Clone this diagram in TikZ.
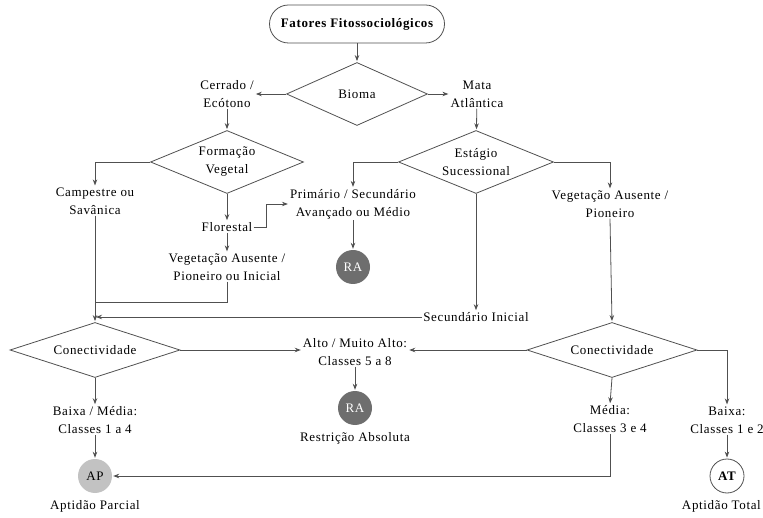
\documentclass[tikz,border=0pt]{standalone}
\usepackage{fontspec}
\setmainfont{Liberation Serif}[LetterSpace=5]
\usetikzlibrary{shapes.geometric,arrows.meta}

\definecolor{lineGray}{HTML}{505050}
\definecolor{raGray}{HTML}{6E6E6E}
\definecolor{apGray}{HTML}{C2C2C2}

\begin{document}
\begin{tikzpicture}[x=1pt,y=-1pt]

    \tikzset{
      txt/.style={
        align=center,
        inner sep=1pt,
        font=\fontsize{13}{18}\selectfont,
      },
      decision/.style={
        txt,
        draw=lineGray,
        line width=0.8pt,
        diamond,
        shape aspect=2.5,
        inner sep=0pt,
      },
      endpoint/.style={
        circle,
        inner sep=0pt,
        minimum size=34pt,
        font=\fontsize{13}{18}\selectfont,
      },
      arr/.style={
        draw=lineGray,
        line width=0.8pt,
        -{Stealth[length=6pt,width=4.5pt]},
        shorten >=1pt,
      },
      link/.style={
        draw=lineGray,
        line width=0.8pt,
      },
    }
    \useasboundingbox (0,0) rectangle (763,518);

    % top
    \node[txt, draw=lineGray, line width=0.8pt, rounded corners=19pt, minimum width=175pt, minimum height=38pt, font=\fontsize{13}{18}\selectfont\bfseries] (title) at (357,24) {Fatores Fitossociológicos};
    \node[decision, minimum width=141pt, minimum height=63pt] (bioma) at (357,94) {Bioma};
    \node[txt] (cerrado) at (227,94) {Cerrado /\\Ecótono};
    \node[txt] (mata) at (477,94) {Mata\\Atlântica};

    % second level
    \node[decision, minimum width=153pt, minimum height=63pt] (formacao) at (227,162) {Formação\\Vegetal};
    \node[decision, minimum width=155pt, minimum height=63pt] (estagio) at (476,162) {Estágio\\Sucessional};
    \node[txt] (campestre) at (95,201) {Campestre ou\\Savânica};
    \node[txt] (primario) at (353,204) {Primário / Secundário\\Avançado ou Médio};
    \node[txt] (vegpio) at (610,204) {Vegetação Ausente /\\Pioneiro};
    \node[txt] (florestal) at (227,227) {Florestal};
    \node[endpoint, fill=raGray, text=white] (ra1) at (353,267) {RA};
    \node[txt] (vegini) at (227,267) {Vegetação Ausente /\\Pioneiro ou Inicial};
    \node[txt] (secini) at (476,317) {Secundário Inicial};
    \coordinate (join) at (95,302);

    % connectivity
    \node[decision, minimum width=170pt, minimum height=55pt, shape aspect=3.1] (conL) at (95,350) {Conectividade};
    \node[decision, minimum width=170pt, minimum height=55pt, shape aspect=3.1] (conR) at (612,350) {Conectividade};
    \node[txt] (alto) at (355,352) {Alto / Muito Alto:\\Classes 5 a 8};
    \node[endpoint, fill=raGray, text=white] (ra2) at (355,408) {RA};
    \node[txt] (restricao) at (355,438) {Restrição Absoluta};
    \node[txt] (baixamedia) at (95,420) {Baixa / Média:\\Classes 1 a 4};
    \node[endpoint, fill=apGray] (ap) at (95,476) {AP};
    \node[txt] (parcial) at (95,506) {Aptidão Parcial};
    \node[txt] (media) at (610,419) {Média:\\Classes 3 e 4};
    \node[txt] (baixa) at (727,420) {Baixa:\\Classes 1 e 2};
    \node[endpoint, draw=lineGray, line width=0.8pt, font=\fontsize{13}{18}\selectfont\bfseries] (at) at (727,476) {AT};
    \node[txt, anchor=east] (total) at (762,506) {Aptidão Total};

    % connectors
    \draw[arr] (title) -- (bioma);
    \draw[arr] (bioma.west) -- (cerrado.east);
    \draw[arr] (bioma.east) -- (mata.west);
    \draw[arr] (cerrado) -- (formacao);
    \draw[arr] (mata) -- (estagio);
    \draw[arr] (formacao.west) -| (campestre.north);
    \draw[arr] (formacao.south) -- (florestal.north);
    \draw[arr] (florestal.east) -- ++(13,0) |- (primario.west);
    \draw[arr] (estagio.west) -| (primario.north);
    \draw[arr] (estagio.east) -| (vegpio.north);
    \draw[arr] (estagio.south) -- (secini.north);
    \draw[arr] (primario) -- (ra1);
    \draw[arr] (florestal) -- (vegini);
    \draw[link] (vegini.south) |- (join);
    \draw[arr] (campestre.south) -- (conL.north);
    \draw[arr] (secini.west) -- (conL.north |- secini.west);
    \draw[arr] (vegpio.south) -- (conR.north);
    \draw[arr] (conL.east) -- (conL.east -| alto.west);
    \draw[arr] (conR.west) -- (conR.west -| alto.east);
    \draw[arr] (alto) -- (ra2);
    \draw[arr] (conL.south) -- (baixamedia.north);
    \draw[arr] (baixamedia) -- (ap);
    \draw[arr] (conR.south) -- (media.north);
    \draw[arr] (conR.east) -| (baixa.north);
    \draw[arr] (baixa) -- (at);
    \draw[arr] (media.south) |- (ap.east);

\end{tikzpicture}
\end{document}
